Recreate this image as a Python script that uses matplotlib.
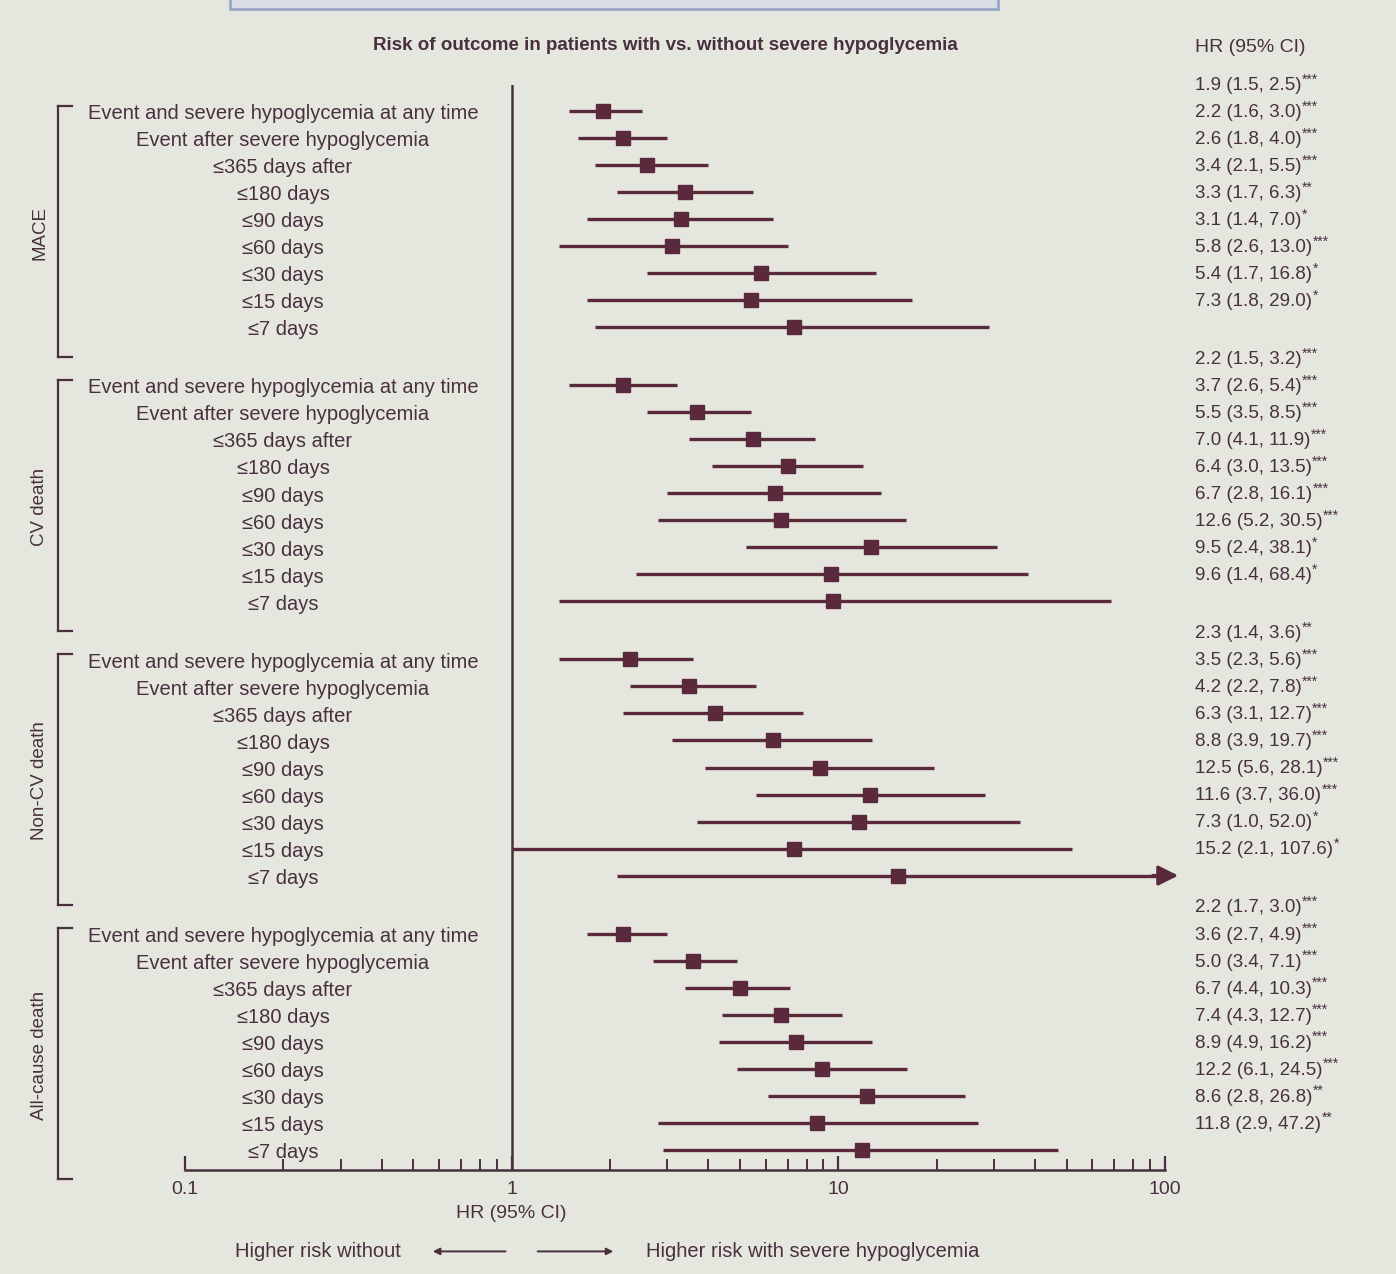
import matplotlib.pyplot as plt
from matplotlib.patches import Rectangle
import matplotlib.ticker as mticker

plt.rcParams['font.family'] = ['Liberation Sans', 'DejaVu Sans']

groups = ["MACE", "CV death", "Non-CV death", "All-cause death"]
row_labels = ["Event and severe hypoglycemia at any time",
              "Event after severe hypoglycemia",
              "\u2264365 days after", "\u2264180 days", "\u226490 days",
              "\u226460 days", "\u226430 days", "\u226415 days", "\u22647 days"]

hr = [[1.9, 2.2, 2.6, 3.4, 3.3, 3.1, 5.8, 5.4, 7.3],
      [2.2, 3.7, 5.5, 7.0, 6.4, 6.7, 12.6, 9.5, 9.6],
      [2.3, 3.5, 4.2, 6.3, 8.8, 12.5, 11.6, 7.3, 15.2],
      [2.2, 3.6, 5.0, 6.7, 7.4, 8.9, 12.2, 8.6, 11.8]]
lo = [[1.5, 1.6, 1.8, 2.1, 1.7, 1.4, 2.6, 1.7, 1.8],
      [1.5, 2.6, 3.5, 4.1, 3.0, 2.8, 5.2, 2.4, 1.4],
      [1.4, 2.3, 2.2, 3.1, 3.9, 5.6, 3.7, 1.0, 2.1],
      [1.7, 2.7, 3.4, 4.4, 4.3, 4.9, 6.1, 2.8, 2.9]]
hi = [[2.5, 3.0, 4.0, 5.5, 6.3, 7.0, 13.0, 16.8, 29.0],
      [3.2, 5.4, 8.5, 11.9, 13.5, 16.1, 30.5, 38.1, 68.4],
      [3.6, 5.6, 7.8, 12.7, 19.7, 28.1, 36.0, 52.0, 107.6],
      [3.0, 4.9, 7.1, 10.3, 12.7, 16.2, 24.5, 26.8, 47.2]]
stars = [["***", "***", "***", "***", "**", "*", "***", "*", "*"],
         ["***", "***", "***", "***", "***", "***", "***", "*", "*"],
         ["**", "***", "***", "***", "***", "***", "***", "*", "*"],
         ["***", "***", "***", "***", "***", "***", "***", "**", "**"]]

mark = '#5a2a3c'
txt = '#48303f'
bg = '#e5e7df'

fig = plt.figure(figsize=(13.96, 12.74), dpi=100, facecolor=bg)
ax = fig.add_axes([0.1325, 0.0816, 0.702, 0.8516])
ax.set_facecolor(bg)
ax.set_xscale('log')
ax.set_xlim(0.1, 100)
ax.set_ylim(39.2, -0.96)

step = 10.15
trans = ax.get_yaxis_transform()  # x axes-fraction, y data
for g, name in enumerate(groups):
    for r in range(9):
        y = g * step + r
        upper = min(hi[g][r], 100)
        ax.plot([lo[g][r], upper], [y, y], color=mark, lw=2.4, solid_capstyle='butt')
        if hi[g][r] > 100:
            ax.annotate('', xy=(112, y), xytext=(90, y),
                        arrowprops=dict(arrowstyle='-|>', color=mark, lw=2.4,
                                        mutation_scale=30),
                        annotation_clip=False)
        ax.plot(hr[g][r], y, 's', color=mark, ms=10)
        ax.text(0.1, y + 0.1, row_labels[r], transform=trans, ha='center', va='center',
                fontsize=14.5, color=txt, clip_on=False)
        t = ax.text(1.031, y - 0.95, f"{hr[g][r]:.1f} ({lo[g][r]:.1f}, {hi[g][r]:.1f})",
                    transform=trans, ha='left', va='center', fontsize=13.5, color=txt,
                    clip_on=False)
        ax.annotate(stars[g][r], xy=(1.0, 0.85), xycoords=t, ha='left', va='center',
                    fontsize=10, color=txt, annotation_clip=False)
    # bracket
    y0, y1 = g * step - 0.2, g * step + 9.1
    ax.plot([-0.13, -0.13], [y0, y1], transform=trans, color=txt, lw=1.6, clip_on=False)
    ax.plot([-0.13, -0.115], [y0, y0], transform=trans, color=txt, lw=1.6, clip_on=False)
    ax.plot([-0.13, -0.115], [y1, y1], transform=trans, color=txt, lw=1.6, clip_on=False)
    ax.text(-0.148, g * step + 4.5, name, transform=trans, rotation=90,
            ha='center', va='center', fontsize=13.5, color=txt, clip_on=False)

ax.axvline(1, color=txt, lw=1.8)

ax.text(1.031, -2.37, "HR (95% CI)", transform=trans, ha='left', va='center',
        fontsize=14, color=txt, clip_on=False)
ax.text(0.49, -2.44, "Risk of outcome in patients with vs. without severe hypoglycemia",
        transform=trans, ha='center', va='center', fontsize=13.5, fontweight='bold',
        color=txt, clip_on=False)

for s in ['top', 'right', 'left']:
    ax.spines[s].set_visible(False)
ax.spines['bottom'].set_color(txt)
ax.spines['bottom'].set_linewidth(1.8)
ax.set_yticks([])
ax.xaxis.set_major_locator(mticker.FixedLocator([0.1, 1, 10, 100]))
ax.xaxis.set_major_formatter(mticker.FixedFormatter(["0.1", "1", "10", "100"]))
ax.tick_params(axis='x', which='major', direction='in', length=10, width=1.6,
               colors=txt, labelsize=14, pad=8)
ax.tick_params(axis='x', which='minor', direction='in', length=8, width=1.4, colors=txt)

ax.text(1, -0.032, "HR (95% CI)", transform=ax.get_xaxis_transform(), ha='center',
        va='top', fontsize=14, color=txt)
ax.text(0.22, -0.075, "Higher risk without", transform=ax.transAxes, ha='right',
        va='center', fontsize=14.5, color=txt)
ax.annotate('', xy=(0.25, -0.075), xytext=(0.33, -0.075), xycoords='axes fraction',
            arrowprops=dict(arrowstyle='-|>', color=txt, lw=1.4), annotation_clip=False)
ax.annotate('', xy=(0.44, -0.075), xytext=(0.357, -0.075), xycoords='axes fraction',
            arrowprops=dict(arrowstyle='-|>', color=txt, lw=1.4), annotation_clip=False)
ax.text(0.47, -0.075, "Higher risk with severe hypoglycemia", transform=ax.transAxes,
        ha='left', va='center', fontsize=14.5, color=txt)

fig.patches.append(Rectangle((0.165, 0.993), 0.55, 0.02, transform=fig.transFigure,
                             facecolor='#d8dde8', edgecolor='#9aa8c8', lw=2))

fig.savefig('out.png', dpi=100, facecolor=bg)
